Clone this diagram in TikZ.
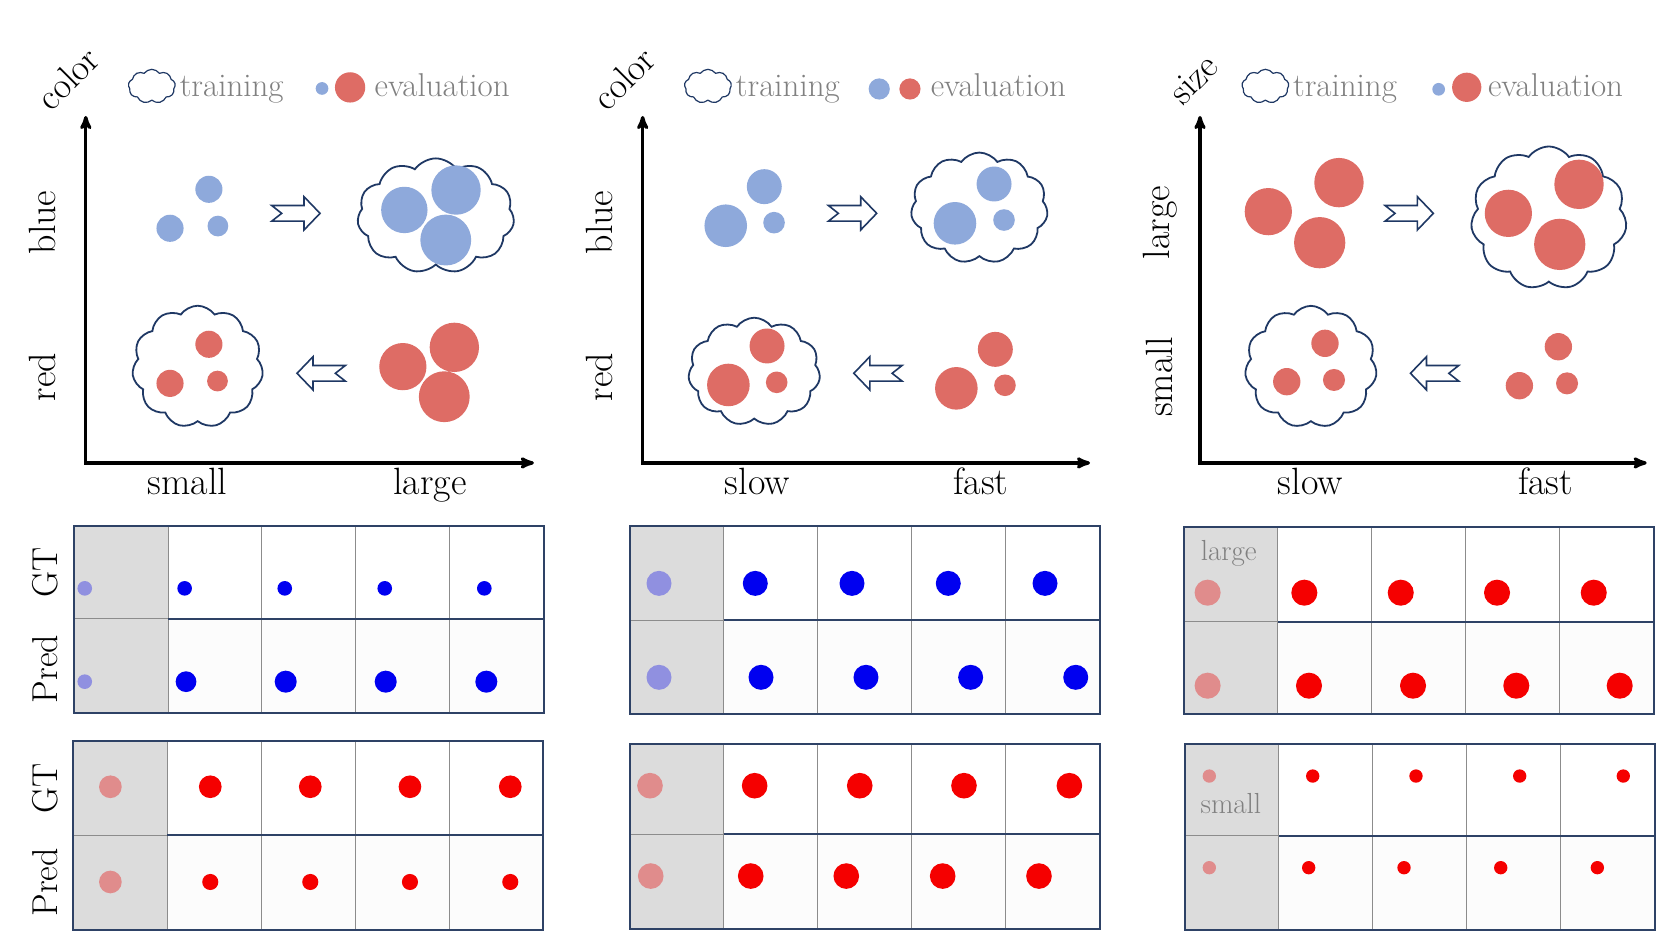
\documentclass[tikz,border=0pt]{standalone}
\usepackage{tikz}
\usetikzlibrary{shapes,arrows}

\definecolor{navy}{HTML}{1F3864}
\definecolor{framecol}{HTML}{2E4266}
\definecolor{softblue}{HTML}{8EA9DB}
\definecolor{softred}{HTML}{DE6C65}
\definecolor{legendgray}{HTML}{808080}
\definecolor{cellgray}{HTML}{DCDCDC}
\definecolor{predbg}{HTML}{FCFCFC}
\definecolor{gtblue}{HTML}{0000F0}
\definecolor{gtred}{HTML}{F50000}
\definecolor{lavender}{HTML}{9090E0}
\definecolor{pinkdot}{HTML}{E08C8C}

\tikzset{
  legendtxt/.style={text=legendgray,font=\fontsize{33}{40}\selectfont,inner sep=0pt},
  axislbl/.style={font=\fontsize{38}{45}\selectfont,inner sep=0pt},
  titlelbl/.style={font=\fontsize{37}{44}\selectfont,inner sep=0pt,rotate=45},
  rowlbl/.style={font=\fontsize{36}{43}\selectfont,inner sep=0pt,rotate=90},
  celltxt/.style={text=legendgray,font=\fontsize{29}{35}\selectfont,inner sep=0pt},
  bubble/.style={cloud,cloud puffs=11,cloud puff arc=110,cloud ignores aspect,
                 draw=navy,line width=1.8pt,fill=white,inner sep=0pt},
  keybubble/.style={bubble,cloud puffs=9,line width=1.2pt,
                    minimum width=47pt,minimum height=34pt},
  axis/.style={<->,>=stealth',line width=3.2pt,line join=miter},
  frame/.style={draw=framecol,line width=2pt},
  gridline/.style={draw=gray!90,line width=1pt},
  blockarrow/.pic={
    \draw[navy,line width=1.6pt,fill=white,line join=miter]
      (-22.8,-7.4) -- (7.7,-7.4) -- (7.7,-15.7) -- (22.8,0) -- (7.7,15.7)
      -- (7.7,7.4) -- (-22.8,7.4) -- (-13.4,0) -- cycle;
  }
}

% left, top, middle, bottom of a GT/Pred table
\newcommand{\evalgrid}[4]{%
  \fill[cellgray] (#1,#2) rectangle (#1+88.7,#4);
  \fill[predbg] (#1+88.7,#3) rectangle (#1+443.5,#4);
  \foreach \c in {1,...,4}
    \draw[gridline] (#1+\c*88.7,#2) -- (#1+\c*88.7,#4);
  \draw[gridline] (#1,#3) -- (#1+88.7,#3);
  \draw[frame] (#1+88.7,#3) -- (#1+443.5,#3);
  \draw[frame] (#1,#2) rectangle (#1+443.5,#4);
}

\begin{document}
\begin{tikzpicture}[x=1.0593pt,y=-1.0593pt]
  \useasboundingbox (0,0) rectangle (1568,890);

  % ---------- panel 1: color / size ----------
  \node[titlelbl] (t1) at (64,74) {color};
  \node[keybubble] (k1) at (143.3,81.5) {};
  \node[legendtxt,anchor=base west] (tr1) at (169.5,91) {training};
  \fill[softblue] (304,83.5) circle (6);
  \fill[softred] (330.5,82.5) circle (14.3);
  \node[legendtxt,anchor=base west] (ev1) at (353.5,91) {evaluation};

  \coordinate (o1) at (81,437);
  \coordinate (y1) at (81,109.5);
  \coordinate (x1) at (504,437);
  \draw[axis] (y1) -- (o1) -- (x1);
  \node[axislbl,rotate=90] (a1) at (40,210) {blue};
  \node[axislbl,rotate=90] (b1) at (40,356) {red};
  \node[axislbl,anchor=base] (c1) at (177,467) {small};
  \node[axislbl,anchor=base] (d1) at (406,467) {large};

  \fill[softblue] (197.2,178.7) circle (12.8) (160.5,215.5) circle (12.8)
                  (205.7,213.4) circle (9.8);
  \pic at (279.3,201.4) {blockarrow};
  \node[bubble,minimum width=157pt,minimum height=115pt] (cA1) at (411.4,203.8) {};
  \fill[softblue] (381.7,198.2) circle (21.9) (430.5,179.4) circle (23.3)
                  (420.8,226.6) circle (24);

  \node[bubble,minimum width=131pt,minimum height=122pt] (cB1) at (186.6,346.2) {};
  \fill[softred] (197.2,325) circle (12.8) (160.5,361.9) circle (12.8)
                 (205.3,359.7) circle (9.8);
  \pic[xscale=-1] at (303.2,352.4) {blockarrow};
  \fill[softred] (380.3,346.1) circle (22.3) (428.9,327.9) circle (23.3)
                 (419.4,374.5) circle (24);

  % ---------- panel 2: color / speed ----------
  \node[titlelbl] (t2) at (589,74) {color};
  \node[keybubble] (k2) at (668.3,81.5) {};
  \node[legendtxt,anchor=base west] (tr2) at (694.5,91) {training};
  \fill[softblue] (830,84) circle (10);
  \fill[softred] (859,84) circle (10);
  \node[legendtxt,anchor=base west] (ev2) at (878.5,91) {evaluation};

  \coordinate (o2) at (606.7,437);
  \coordinate (y2) at (606.7,109.5);
  \coordinate (x2) at (1029,437);
  \draw[axis] (y2) -- (o2) -- (x2);
  \node[axislbl,rotate=90] (a2) at (566,210) {blue};
  \node[axislbl,rotate=90] (b2) at (566,356) {red};
  \node[axislbl,anchor=base] (c2) at (715,467) {slow};
  \node[axislbl,anchor=base] (d2) at (926,467) {fast};

  \fill[softblue] (721.5,176.2) circle (16.5) (685.1,213.1) circle (20.1)
                  (730.7,210.2) circle (10.2);
  \pic at (804.8,201.4) {blockarrow};
  \node[bubble,minimum width=137pt,minimum height=111pt] (cA2) at (924.5,196.4) {};
  \fill[softblue] (938.4,173.7) circle (16.5) (901.5,210.8) circle (20.1)
                  (947.8,207.7) circle (10.2);

  \node[bubble,minimum width=132pt,minimum height=108pt] (cB2) at (712,350.9) {};
  \fill[softred] (724.1,326.6) circle (16.5) (687.6,363.4) circle (20.1)
                 (733.2,360.9) circle (10.2);
  \pic[xscale=-1] at (828.8,352.4) {blockarrow};
  \fill[softred] (939.6,329.8) circle (16.5) (902.8,366.6) circle (20.1)
                 (948.7,363.7) circle (10.2);

  % ---------- panel 3: size / speed ----------
  \node[titlelbl] (t3) at (1126.5,75) {size};
  \node[keybubble] (k3) at (1194.5,81.5) {};
  \node[legendtxt,anchor=base west] (tr3) at (1220.5,91) {training};
  \fill[softblue] (1358.1,84.3) circle (6);
  \fill[softred] (1384.6,82.4) circle (13.8);
  \node[legendtxt,anchor=base west] (ev3) at (1404.5,91) {evaluation};

  \coordinate (o3) at (1132.8,437);
  \coordinate (y3) at (1132.8,109.5);
  \coordinate (x3) at (1554.5,437);
  \draw[axis] (y3) -- (o3) -- (x3);
  \node[axislbl,rotate=90] (a3) at (1095,210) {large};
  \node[axislbl,rotate=90] (b3) at (1095,356) {small};
  \node[axislbl,anchor=base] (c3) at (1237,467) {slow};
  \node[axislbl,anchor=base] (d3) at (1459,467) {fast};

  \fill[softred] (1197.3,199.8) circle (22.3) (1264,172.4) circle (23.3)
                 (1245.8,229.1) circle (24.2);
  \pic at (1330.3,201.4) {blockarrow};
  \node[bubble,minimum width=156pt,minimum height=143pt] (cA3) at (1462.1,205.8) {};
  \fill[softred] (1423.9,201.4) circle (22.3) (1490.6,174) circle (23.3)
                 (1472.4,230.7) circle (24.2);

  \node[bubble,minimum width=132pt,minimum height=122pt] (cB3) at (1237.5,346.3) {};
  \fill[softred] (1250.8,324.1) circle (12.9) (1214.7,360.3) circle (12.9)
                 (1259.3,358.7) circle (10.4);
  \pic[xscale=-1] at (1354.3,352.4) {blockarrow};
  \fill[softred] (1471.1,327.3) circle (12.9) (1434.3,364.1) circle (12.9)
                 (1479.3,361.9) circle (10.4);

  % ---------- GT / Pred tables ----------
  \node[rowlbl] (g1) at (43,540.5) {GT};
  \node[rowlbl] (p1) at (43,631.6) {Pred};
  \node[rowlbl] (g2) at (43,744) {GT};
  \node[rowlbl] (p2) at (43,833) {Pred};

  \evalgrid{69.9}{496.3}{584.3}{673}
  \fill[lavender] (80,555.4) circle (6.9) (80,643.5) circle (6.9);
  \foreach \x in {174.3,268.8,363.2,457.2}
    \fill[gtblue] (\x,555.4) circle (6.9);
  \foreach \x/\r in {175.6/9.8,269.7/10.4,364.1/10.4,459.1/10.4}
    \fill[gtblue] (\x,643.5) circle (\r);

  \evalgrid{69.2}{699.5}{788.6}{878}
  \fill[pinkdot] (104.2,742.7) circle (10.7) (104.2,832.6) circle (10.7);
  \foreach \x in {198.5,292.9,387,481.7}{
    \fill[gtred] (\x,742.7) circle (10.7);
    \fill[gtred] (\x,832.6) circle (7.6);
  }

  \evalgrid{594.7}{496.2}{585.3}{674}
  \fill[lavender] (622.1,550.7) circle (11.8) (622.1,639.4) circle (11.8);
  \foreach \x in {713,804.3,895.2,986.5}
    \fill[gtblue] (\x,550.7) circle (11.8);
  \foreach \x in {718.4,817.5,916.3,1015.5}
    \fill[gtblue] (\x,639.4) circle (11.8);

  \evalgrid{594.7}{702.4}{787.3}{876.7}
  \fill[pinkdot] (613.6,741.7) circle (12.1) (614.3,827) circle (12.1);
  \foreach \x in {712.4,811.6,910,1009.5}
    \fill[gtred] (\x,741.7) circle (12.1);
  \foreach \x in {708.7,798.9,889.9,980.8}
    \fill[gtred] (\x,827) circle (12.1);

  \evalgrid{1117.7}{497.2}{586.9}{674}
  \node[celltxt] (lg) at (1160,522) {large};
  \fill[pinkdot] (1140,559.5) circle (12.3) (1140,647.3) circle (12.3);
  \foreach \x in {1231.3,1322.3,1413.2,1504.5}
    \fill[gtred] (\x,559.5) circle (12.3);
  \foreach \x in {1235.7,1333.9,1431.4,1529}
    \fill[gtred] (\x,647.3) circle (12.3);

  \evalgrid{1118.4}{702.4}{788.9}{878}
  \node[celltxt] (sm) at (1162,759) {small};
  \fill[pinkdot] (1141.6,732.6) circle (6.3) (1141.6,819.1) circle (6.3);
  \foreach \x in {1239.2,1336.7,1434.6,1532.4}
    \fill[gtred] (\x,732.6) circle (6.3);
  \foreach \x in {1235.4,1325.4,1416.7,1507.9}
    \fill[gtred] (\x,819.1) circle (6.3);
\end{tikzpicture}
\end{document}
